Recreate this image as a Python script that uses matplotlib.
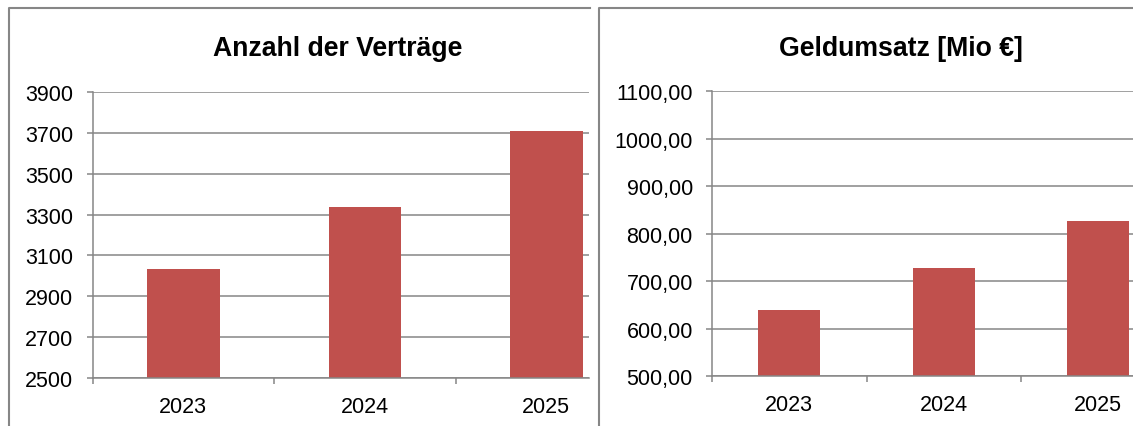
import matplotlib.pyplot as plt
from matplotlib.lines import Line2D

# Data
years = ['2023', '2024', '2025']
vertraege = [3032, 3337, 3707]
geldumsatz = [640, 727, 828]

left_title = 'Anzahl der Verträge'
right_title = 'Geldumsatz [Mio €]'
left_yticks = [2500, 2700, 2900, 3100, 3300, 3500, 3700, 3900]
left_ylabels = ['2500', '2700', '2900', '3100', '3300', '3500', '3700', '3900']
right_yticks = [500, 600, 700, 800, 900, 1000, 1100]
right_ylabels = ['500,00', '600,00', '700,00', '800,00', '900,00', '1000,00', '1100,00']

BAR = '#C0504D'
GRAY = '#868686'
W, H = 1133, 427

plt.rcParams['font.family'] = ['Liberation Sans', 'DejaVu Sans']

fig = plt.figure(figsize=(W / 100, H / 100), dpi=100)


def px_axes(x0, x1, ytop, ybot):
    return fig.add_axes([x0 / W, (H - ybot) / H, (x1 - x0) / W, (ybot - ytop) / H])


def style_axes(ax, values, yticks, ylabels, xmax):
    x = range(len(years))
    ax.bar(x, values, width=0.4, color=BAR, zorder=2)
    ax.set_yticks(yticks)
    ax.set_yticklabels(ylabels)
    # category boundaries carry the tick marks, centres carry the labels
    ax.set_xticks([i - 0.5 for i in range(len(years) + 1)])
    ax.set_xticklabels([])
    ax.set_xticks(list(x), minor=True)
    ax.set_xticklabels(years, minor=True, fontsize=15.5)
    ax.set_xlim(-0.5, xmax)
    ax.set_ylim(yticks[0], yticks[-1])
    ax.tick_params(axis='x', which='major', length=4.3, width=1.1, color=GRAY)
    ax.tick_params(axis='x', which='minor', length=0, pad=12.5)
    ax.tick_params(axis='y', length=4.3, width=1.1, color=GRAY, pad=9.5, labelsize=15.5)
    ax.grid(axis='y', color=GRAY, linewidth=1.1, zorder=1)
    ax.set_axisbelow(True)
    for s in ['top', 'right']:
        ax.spines[s].set_visible(False)
    for s in ['left', 'bottom']:
        ax.spines[s].set_color(GRAY)
        ax.spines[s].set_linewidth(1.1)


ax1 = px_axes(92.6, 589, 92.7, 379.3)
style_axes(ax1, vertraege, left_yticks, left_ylabels, -0.5 + (589 - 92.6) / 181.5)

ax2 = px_axes(712, 1133, 92.3, 377.3)
style_axes(ax2, geldumsatz, right_yticks, right_ylabels, -0.5 + (1133 - 712) / 154.5)

fig.text(338 / W, 1 - 56 / H, left_title, ha='center', va='baseline', fontsize=19.2, fontweight='bold')
fig.text(901 / W, 1 - 56 / H, right_title, ha='center', va='baseline', fontsize=19.2, fontweight='bold')

# chart area borders (cropped panels)
def border(xs, ys):
    fig.add_artist(Line2D([v / W for v in xs], [1 - v / H for v in ys],
                          color=GRAY, linewidth=1.5, transform=fig.transFigure))

border([9, 9, 590], [H + 5, 9, 9])
border([599, 599, W + 5], [H + 5, 9, 9])

fig.savefig('out.png', dpi=100)
